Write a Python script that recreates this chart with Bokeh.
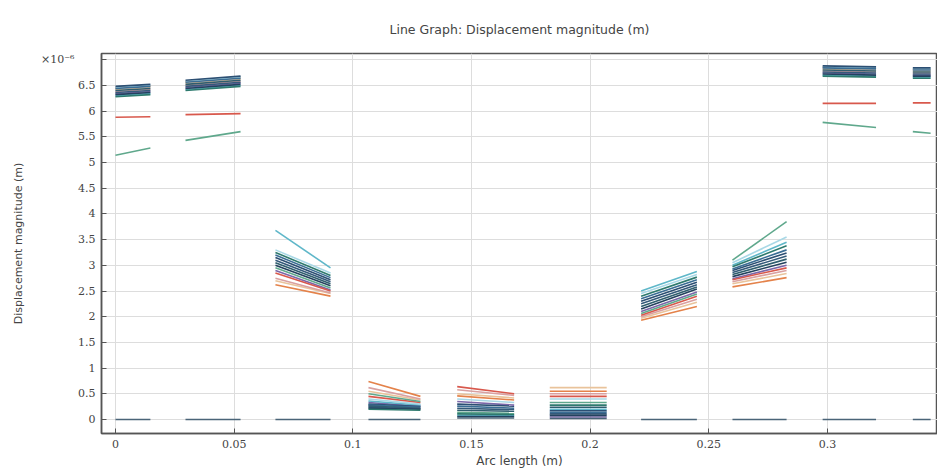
from bokeh.plotting import figure
from bokeh.models import Range1d, FixedTicker, CustomJSTickFormatter
from bokeh.embed import file_html
from bokeh.resources import INLINE

# x extent of each of the 10 line pieces (m)
seg_x_start = [0.0, 0.0295, 0.0674, 0.1066, 0.144, 0.183, 0.2215, 0.26, 0.298, 0.336]
seg_x_end = [0.0147, 0.0527, 0.0906, 0.1285, 0.168, 0.207, 0.245, 0.2828, 0.3205, 0.3435]

series_colors = ["#2c4f73", "#3a6d94", "#2f5e6e", "#345a7a", "#23425e", "#2e7a6e",
                 "#e4824a", "#e9c39b", "#d9a0a0", "#7a66a8", "#5fb7c9", "#a8d8e6",
                 "#d8584c", "#5fa88c", "#4a6478"]

# displacement (x1e-6 m) at start / end of each piece, one value per series (15)
g1_start = [6.48, 6.44, 6.40, 6.36, 6.32, 6.28, 6.45, 6.42, 6.38, 6.34, 6.30, 6.46, 5.88, 5.14, 0.0]
g1_end   = [6.52, 6.48, 6.44, 6.40, 6.36, 6.32, 6.49, 6.46, 6.42, 6.38, 6.34, 6.50, 5.89, 5.28, 0.0]
g2_start = [6.60, 6.56, 6.52, 6.48, 6.44, 6.40, 6.57, 6.54, 6.50, 6.46, 6.42, 6.58, 5.93, 5.43, 0.0]
g2_end   = [6.68, 6.64, 6.60, 6.56, 6.52, 6.48, 6.65, 6.62, 6.58, 6.54, 6.50, 6.66, 5.95, 5.60, 0.0]
g3_start = [3.15, 3.20, 3.05, 3.10, 3.00, 3.25, 2.62, 2.70, 2.75, 2.90, 3.68, 3.30, 2.85, 2.95, 0.0]
g3_end   = [2.72, 2.76, 2.64, 2.68, 2.60, 2.80, 2.40, 2.45, 2.46, 2.52, 2.95, 2.85, 2.50, 2.56, 0.0]
g4_start = [0.30, 0.28, 0.26, 0.24, 0.22, 0.20, 0.74, 0.55, 0.62, 0.33, 0.36, 0.40, 0.45, 0.50, 0.0]
g4_end   = [0.25, 0.24, 0.22, 0.21, 0.20, 0.18, 0.45, 0.38, 0.40, 0.26, 0.28, 0.30, 0.33, 0.35, 0.0]
g5_start = [0.30, 0.26, 0.18, 0.22, 0.06, 0.11, 0.46, 0.50, 0.58, 0.35, 0.08, 0.40, 0.64, 0.14, 0.03]
g5_end   = [0.26, 0.22, 0.16, 0.19, 0.06, 0.10, 0.38, 0.42, 0.47, 0.28, 0.08, 0.33, 0.50, 0.12, 0.03]
g6_start = [0.17, 0.14, 0.24, 0.11, 0.08, 0.28, 0.55, 0.62, 0.50, 0.05, 0.20, 0.40, 0.45, 0.33, 0.02]
g6_end   = [0.17, 0.14, 0.24, 0.11, 0.08, 0.28, 0.55, 0.62, 0.50, 0.05, 0.20, 0.40, 0.45, 0.33, 0.02]
g7_start = [2.30, 2.35, 2.20, 2.25, 2.15, 2.40, 1.93, 1.97, 2.00, 2.10, 2.50, 2.45, 2.03, 2.06, 0.0]
g7_end   = [2.67, 2.72, 2.58, 2.62, 2.54, 2.77, 2.20, 2.28, 2.34, 2.48, 2.88, 2.82, 2.40, 2.44, 0.0]
g8_start = [2.90, 2.93, 2.82, 2.86, 2.78, 2.97, 2.58, 2.64, 2.68, 2.74, 3.00, 3.05, 2.72, 3.10, 0.0]
g8_end   = [3.24, 3.30, 3.12, 3.18, 3.06, 3.38, 2.76, 2.84, 2.90, 3.00, 3.45, 3.55, 2.95, 3.85, 0.0]
g9_start = [6.88, 6.84, 6.80, 6.76, 6.72, 6.68, 6.85, 6.82, 6.78, 6.74, 6.70, 6.86, 6.15, 5.78, 0.0]
g9_end   = [6.86, 6.82, 6.78, 6.74, 6.70, 6.66, 6.83, 6.80, 6.76, 6.72, 6.68, 6.84, 6.15, 5.68, 0.0]
g10_start = [6.84, 6.80, 6.76, 6.72, 6.68, 6.64, 6.81, 6.78, 6.74, 6.70, 6.66, 6.82, 6.16, 5.60, 0.0]
g10_end   = [6.84, 6.80, 6.76, 6.72, 6.68, 6.64, 6.81, 6.78, 6.74, 6.70, 6.66, 6.82, 6.16, 5.57, 0.0]

y_ticks = [0, 0.5, 1, 1.5, 2, 2.5, 3, 3.5, 4, 4.5, 5, 5.5, 6, 6.5, 7]
x_ticks = [0, 0.05, 0.1, 0.15, 0.2, 0.25, 0.3]

starts = [g1_start, g2_start, g3_start, g4_start, g5_start, g6_start, g7_start, g8_start, g9_start, g10_start]
ends = [g1_end, g2_end, g3_end, g4_end, g5_end, g6_end, g7_end, g8_end, g9_end, g10_end]

FONT = "DejaVu Sans"
TXT = "#444444"

p = figure(width=937, height=470, output_backend="svg", toolbar_location=None,
           x_range=Range1d(-0.0059, 0.3464), y_range=Range1d(-0.272, 7.12),
           min_border_left=101, min_border_top=53, min_border_bottom=37, min_border_right=0)

p.title.text = "Line Graph: Displacement magnitude (m)"
p.title.align = "center"
p.title.text_font = FONT
p.title.text_font_size = "12.5px"
p.title.text_font_style = "normal"
p.title.text_color = TXT
p.title.standoff = 33

order = [6, 7, 8, 9, 10, 11, 12, 13, 14, 0, 1, 2, 3, 4, 5]
for i in order:
    p.segment(x0=seg_x_start, x1=seg_x_end,
              y0=[g[i] for g in starts], y1=[g[i] for g in ends],
              line_color=series_colors[i], line_width=1.6)

for ax in (p.xaxis[0], p.yaxis[0]):
    ax.major_tick_in = 5
    ax.major_tick_out = 0
    ax.minor_tick_line_color = None
    ax.axis_line_color = "#555555"
    ax.axis_line_width = 1.5
    ax.major_tick_line_color = "#555555"
    ax.major_label_text_font = "DejaVu Serif"
    ax.major_label_text_font_size = "11px"
    ax.major_label_text_color = TXT
    ax.axis_label_text_font = FONT
    ax.axis_label_text_font_style = "normal"
    ax.axis_label_text_color = TXT

p.xaxis.axis_label_text_font_size = "12px"
p.yaxis.axis_label_text_font_size = "11px"
p.xaxis.ticker = FixedTicker(ticks=x_ticks)
p.yaxis.ticker = FixedTicker(ticks=y_ticks)
p.xaxis.formatter = CustomJSTickFormatter(code="return String(parseFloat(tick.toFixed(4)));")
p.yaxis.formatter = CustomJSTickFormatter(
    code="if (tick > 6.9) { return '\u00d710\u207b\u2076\u2007\u2007\u2007'; } return String(parseFloat(tick.toFixed(4)));")
p.xaxis.axis_label = "Arc length (m)"
p.yaxis.axis_label = "Displacement magnitude (m)"
p.xaxis.major_label_standoff = 6
p.xaxis.axis_label_standoff = 3
p.yaxis.major_label_standoff = 6
p.yaxis.axis_label_standoff = 13

p.xgrid.grid_line_color = "#dddddd"
p.ygrid.grid_line_color = "#dddddd"
p.outline_line_color = "#555555"
p.outline_line_width = 1.5

open("out.html", "w").write(file_html(p, INLINE))
